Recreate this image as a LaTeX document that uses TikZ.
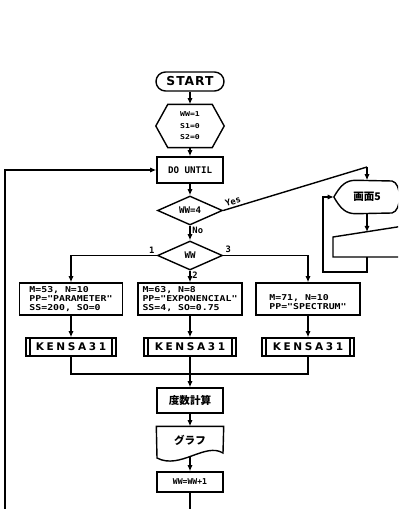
\documentclass[tikz,border=0pt]{standalone}
\usepackage{fontspec}
\newfontfamily\mn{DejaVu Sans Mono}
\newfontfamily\mnw{DejaVu Sans Mono}[FakeStretch=1.22]
\newfontfamily\spc{DejaVu Sans}[LetterSpace=25]
\newfontfamily\spcs{DejaVu Sans}[LetterSpace=8]
\newfontfamily\jp{Noto Sans CJK JP}
\usetikzlibrary{arrows.meta,shapes.geometric,calc}
\begin{document}
\begin{tikzpicture}[x=0.02cm,y=-0.02cm,
  line width=0.8pt, >={Latex[length=3.5pt,width=3pt]},
  txt/.style={font=\mn\bfseries\fontsize{5.2}{6.2}\selectfont},
  btxt/.style={font=\mnw\bfseries\fontsize{4.6}{5}\selectfont},
  lbl/.style={font=\mn\bfseries\fontsize{5}{6}\selectfont, inner sep=1pt},
  box/.style={draw, rectangle, inner sep=0pt, txt},
  jbox/.style={draw, rectangle, inner sep=0pt, font=\jp\bfseries\fontsize{6}{7}\selectfont},
  term/.style={draw, rectangle, rounded corners=0.19cm, inner sep=0pt,
    minimum width=1.36cm, minimum height=0.38cm, font=\spcs\bfseries\fontsize{7}{8}\selectfont},
  dia/.style={draw, diamond, inner sep=0pt, aspect=2.2, minimum width=1.3cm, minimum height=0.58cm, txt},
  pp/.style={draw, rectangle, inner sep=0pt, minimum height=0.36cm,
    font=\spc\bfseries\fontsize{6}{7}\selectfont,
    path picture={
      \draw ([xshift=0.08cm]path picture bounding box.north west) -- ([xshift=0.08cm]path picture bounding box.south west);
      \draw ([xshift=-0.08cm]path picture bounding box.north east) -- ([xshift=-0.08cm]path picture bounding box.south east);}}
]
\useasboundingbox (0,0) rectangle (398,509);
\clip (0,0) rectangle (398,509);

% main column
\node[term] (start) at (190,81.5) {START};
\node[inner sep=0pt, minimum width=1.34cm, minimum height=0.84cm, align=center,
  font=\mnw\bfseries\fontsize{3.8}{6.6}\selectfont] (init) at (190,126) {WW=1\\S1=0\\S2=0};
\draw (init.west) -- ($(init.north west)+(12,0)$) -- ($(init.north east)+(-12,0)$) -- (init.east)
  -- ($(init.south east)+(-12,0)$) -- ($(init.south west)+(12,0)$) -- cycle;
\node[box, minimum width=1.32cm, minimum height=0.52cm] (do) at (190,170) {DO UNTIL};
\node[dia] (q4) at (190,210.5) {WW=4};
\node[dia] (qw) at (190,255.5) {WW};

% three branches
\node[box, btxt, minimum width=2.06cm, minimum height=0.64cm, align=left] (b1) at (71,299)
  {M=53, N=10\\PP="PARAMETER"\\SS=200, SO=0};
\node[box, btxt, minimum width=2.08cm, minimum height=0.64cm, align=left] (b2) at (190,299)
  {M=63, N=8\\PP="EXPONENCIAL"\\SS=4, SO=0.75};
\node[box, btxt, minimum width=2.08cm, minimum height=0.64cm, align=left] (b3) at (308,299)
  {\rule{0pt}{7pt}M=71, N=10\\PP="SPECTRUM"};
\node[pp, minimum width=1.8cm] (k1) at (71,347) {KENSA31};
\node[pp, minimum width=1.84cm] (k2) at (190,347) {KENSA31};
\node[pp, minimum width=1.84cm] (k3) at (308,347) {KENSA31};

\node[jbox, minimum width=1.32cm, minimum height=0.5cm] (calc) at (190,400.5) {度数計算};
\node[inner sep=0pt, minimum width=1.32cm, minimum height=0.52cm,
  font=\jp\bfseries\fontsize{6}{7}\selectfont] (graph) at (190,440) {グラフ};
\draw (graph.north west) -- (graph.north east) -- (223,453)
  .. controls (205,442) and (180,470) .. (157,458) -- cycle;
\node[box, minimum width=1.32cm, minimum height=0.4cm, font=\mn\bfseries\fontsize{4.6}{5.5}\selectfont] (inc) at (190,482) {WW=WW+1};

% display and manual input (right side)
\node[inner sep=0pt, minimum width=1.3cm, minimum height=0.64cm,
  font=\jp\bfseries\fontsize{6}{7}\selectfont] (disp) at (367,197) {画面5};
\draw (disp.west) .. controls ($(disp.west)+(7,-12)$) and ($(disp.north west)+(12,0)$) .. ($(disp.north west)+(22,0)$)
  -- (392,181) .. controls (402,183) and (402,211) .. (392,213)
  -- ($(disp.south west)+(22,0)$) .. controls ($(disp.south west)+(12,0)$) and ($(disp.west)+(7,12)$) .. (disp.west);
\draw (333,237) -- (410,225) -- (410,257) -- (333,257) -- cycle;
\coordinate (mitop) at (367,232);
\coordinate (mibot) at (367,257);

% connectors
\draw[->] (start) -- (init);
\draw[->] (init) -- (do);
\draw[->] (do) -- (q4);
\draw[->] (q4) -- node[lbl, pos=0.3, right] {No} (qw);
\draw[->] (qw.west) -| node[lbl, pos=0.03, above] {1} (b1.north);
\draw[->] (qw.east) -| node[lbl, pos=0.03, above] {3} (b3.north);
\draw[->] (qw) -- node[lbl, pos=0.35, right] {2} (b2);
\draw[->] (b1) -- (k1);
\draw[->] (b2) -- (k2);
\draw[->] (b3) -- (k3);
\coordinate (m) at (190,374);
\draw (k1.south) -- (k1.south |- m) -- (k3.south |- m) -- (k3.south);
\draw (k2) -- (m);
\draw[->] (m) -- (calc);
\draw[->] (calc) -- (graph);
\coordinate (docb) at (190,456);
\draw[->] (docb) -- (inc);
\coordinate (bot) at (190,515);
\draw (inc) -- (bot);
\coordinate (lb) at (5,515);
\draw[->] (lb) |- (do.west);
\coordinate (yt) at (367,167);
\draw (q4.east) -- node[lbl, pos=0.08, above, sloped] {Yes} (yt);
\draw[->] (yt) -- (disp.north);
\draw[->] (disp.south) -- (mitop);
\draw[->] (mibot) -- ++(0,15) -| ($(disp.west)+(-11,0)$) -- (disp.west);
\end{tikzpicture}
\end{document}
